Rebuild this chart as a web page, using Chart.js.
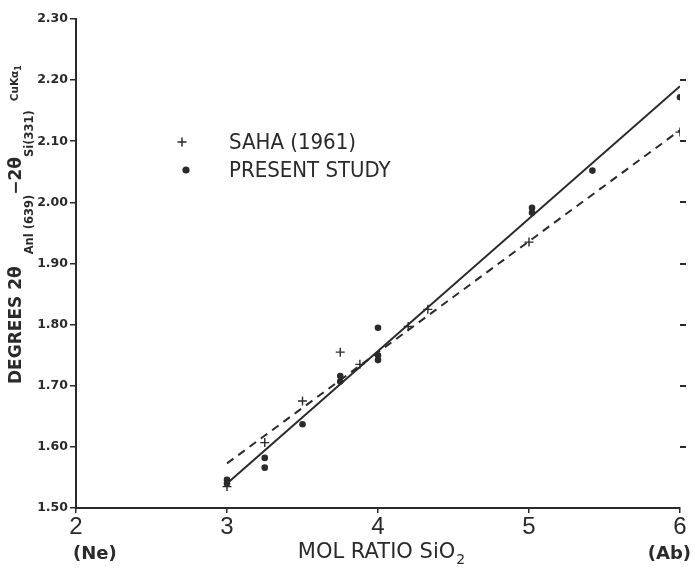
<!DOCTYPE html>
<html>
<head>
<meta charset="utf-8">
<script src="https://cdn.jsdelivr.net/npm/chart.js@4.4.1/dist/chart.umd.min.js"></script>
<style>
  html, body { margin: 0; padding: 0; background: #fff; }
  #wrap { width: 696px; height: 568px; position: relative; }
</style>
</head>
<body>
<div id="wrap"><canvas id="c"></canvas></div>
<script>
// ---- data ----
const sahaX = [3.0, 3.25, 3.5, 3.75, 3.88, 4.2, 4.33, 5.0, 6.0];
const sahaY = [1.535, 1.607, 1.675, 1.755, 1.735, 1.797, 1.825, 1.935, 2.115];
const presentX = [3.0, 3.0, 3.25, 3.25, 3.5, 3.75, 3.75, 4.0, 4.0, 4.0, 5.02, 5.02, 5.42, 6.0];
const presentY = [1.546, 1.540, 1.582, 1.566, 1.637, 1.716, 1.707, 1.795, 1.750, 1.742, 1.991, 1.983, 2.052, 2.172];
const presentFitX = [3.0, 6.0];
const presentFitY = [1.540, 2.190];
const sahaFitX = [3.0, 6.0];
const sahaFitY = [1.573, 2.118];
const xTicks = [2, 3, 4, 5, 6];
const yTicks = [1.5, 1.6, 1.7, 1.8, 1.9, 2.0, 2.1, 2.2, 2.3];
const xEndLabels = { 2: '(Ne)', 6: '(Ab)' };
const seriesLabels = ['SAHA (1961)', 'PRESENT STUDY'];
const xTitle = ['MOL RATIO SiO', '2'];
// y title pieces: text, role
const yTitleParts = [
  ['DEGREES 2θ', 'main'], ['Anl (639)', 'sub'], ['−2θ', 'main'], ['Si(331)', 'sub'],
  ['CuKα', 'small'], ['1', 'tiny']
];

const pts = (xs, ys) => xs.map((x, i) => ({ x, y: ys[i] }));
const INK = '#2a2a2a';

// style of each y-title role: font, baseline offset (screen x), gap before
const roleStyle = {
  main:  { font: 'bold 17px "DejaVu Sans"', base: 21 },
  sub:   { font: 'bold 11.5px "DejaVu Sans"', base: 33 },
  small: { font: 'bold 10.5px "DejaVu Sans"', base: 18 },
  tiny:  { font: 'bold 8px "DejaVu Sans"', base: 21 }
};
const gapBefore = [0, 12, 0, 0, 9, 0];

const annot = {
  id: 'annot',
  afterDraw(chart) {
    const ctx = chart.ctx;
    const xs = chart.scales.x, ca = chart.chartArea;
    ctx.save();
    ctx.fillStyle = INK;
    ctx.strokeStyle = INK;
    // x end labels
    ctx.font = 'bold 18px "DejaVu Sans"';
    ctx.textBaseline = 'alphabetic';
    Object.keys(xEndLabels).forEach(k => {
      const v = Number(k);
      const px = xs.getPixelForValue(v);
      ctx.textAlign = v === xs.min ? 'left' : 'right';
      ctx.fillText(xEndLabels[k], v === xs.min ? px - 3 : px + 11, 559);
    });
    // x title
    const tf = '21px "DejaVu Sans"', sf = '14px "DejaVu Sans"';
    ctx.font = tf; const w1 = ctx.measureText(xTitle[0]).width;
    ctx.font = sf; const w2 = ctx.measureText(xTitle[1]).width;
    const cx = (ca.left + ca.right) / 2 + 3;
    const sx = cx - (w1 + w2) / 2;
    ctx.textAlign = 'left';
    ctx.font = tf; ctx.fillText(xTitle[0], sx, 558);
    ctx.font = sf; ctx.fillText(xTitle[1], sx + w1 + 1, 564);
    // y title (rotated, reading bottom to top)
    ctx.translate(0, 384);
    ctx.rotate(-Math.PI / 2);
    let lx = 0;
    yTitleParts.forEach(([t, role], i) => {
      const st = roleStyle[role];
      lx += gapBefore[i];
      ctx.font = st.font;
      ctx.fillText(t, lx, st.base);
      lx += ctx.measureText(t).width;
    });
    ctx.restore();
    // legend
    ctx.save();
    ctx.fillStyle = INK; ctx.strokeStyle = INK;
    const legY = [142, 170];
    chart.data.datasets.slice(0, 2).forEach((ds, i) => {
      const y = legY[i];
      ctx.lineWidth = 1.5;
      if (ds.pointStyle === 'cross') {
        ctx.beginPath();
        ctx.moveTo(182, y - 4.5); ctx.lineTo(182, y + 4.5);
        ctx.moveTo(177.5, y); ctx.lineTo(186.5, y);
        ctx.stroke();
      } else {
        ctx.beginPath(); ctx.arc(186, y, 3.6, 0, Math.PI * 2); ctx.fill();
      }
      ctx.font = '22px "DejaVu Sans Condensed", "DejaVu Sans"';
      ctx.textAlign = 'left';
      ctx.textBaseline = 'middle';
      ctx.fillText(seriesLabels[i], 229, y + 1);
    });
    ctx.restore();
  }
};

new Chart(document.getElementById('c'), {
  type: 'scatter',
  data: {
    datasets: [
      { label: seriesLabels[0], data: pts(sahaX, sahaY), pointStyle: 'cross', pointRadius: 4.5,
        borderColor: INK, borderWidth: 1.4, backgroundColor: INK },
      { label: seriesLabels[1], data: pts(presentX, presentY), pointStyle: 'circle', pointRadius: 3.3,
        borderColor: INK, backgroundColor: INK, borderWidth: 0 },
      { label: 'fit present', type: 'line', data: pts(presentFitX, presentFitY), showLine: true,
        borderColor: INK, borderWidth: 2, pointRadius: 0, fill: false },
      { label: 'fit saha', type: 'line', data: pts(sahaFitX, sahaFitY), showLine: true,
        borderColor: INK, borderWidth: 2, borderDash: [8, 6], pointRadius: 0, fill: false }
    ]
  },
  options: {
    responsive: true,
    maintainAspectRatio: false,
    animation: false,
    layout: { padding: { top: 19, left: 0, right: 0, bottom: 0 } },
    plugins: { legend: { display: false }, tooltip: { enabled: false } },
    scales: {
      x: {
        type: 'linear', min: 2, max: 6,
        afterBuildTicks: s => { s.ticks = xTicks.map(v => ({ value: v })); },
        afterFit: s => { s.height = 60; },
        ticks: { color: INK, font: { family: 'Liberation Sans', size: 24 }, padding: 0,
                 callback: v => String(v) },
        grid: { drawOnChartArea: false, tickLength: 5, color: INK, lineWidth: 1.5 },
        border: { display: true, color: INK, width: 2 }
      },
      y: {
        type: 'linear', min: 1.5, max: 2.3,
        afterBuildTicks: s => { s.ticks = yTicks.map(v => ({ value: v })); },
        afterFit: s => { s.width = 76; },
        ticks: { color: INK, font: { family: 'DejaVu Sans', size: 12.5, weight: 'bold' }, padding: 2,
                 callback: v => Number(v).toFixed(2) },
        grid: { drawOnChartArea: false, tickLength: 6, color: INK, lineWidth: 1.5 },
        border: { display: true, color: INK, width: 2 }
      },
      y2: {
        type: 'linear', position: 'right', min: 1.5, max: 2.3,
        afterBuildTicks: s => { s.ticks = yTicks.map(v => ({ value: v })); },
        afterFit: s => { s.width = 16; },
        ticks: { display: false },
        grid: { drawOnChartArea: false, tickLength: 6,
                color: c => (c.tick && (c.tick.value <= 1.5 || c.tick.value >= 2.3)) ? 'rgba(0,0,0,0)' : INK,
                lineWidth: 2, offset: false },
        border: { display: false }
      }
    }
  },
  plugins: [annot]
});
</script>
</body>
</html>
